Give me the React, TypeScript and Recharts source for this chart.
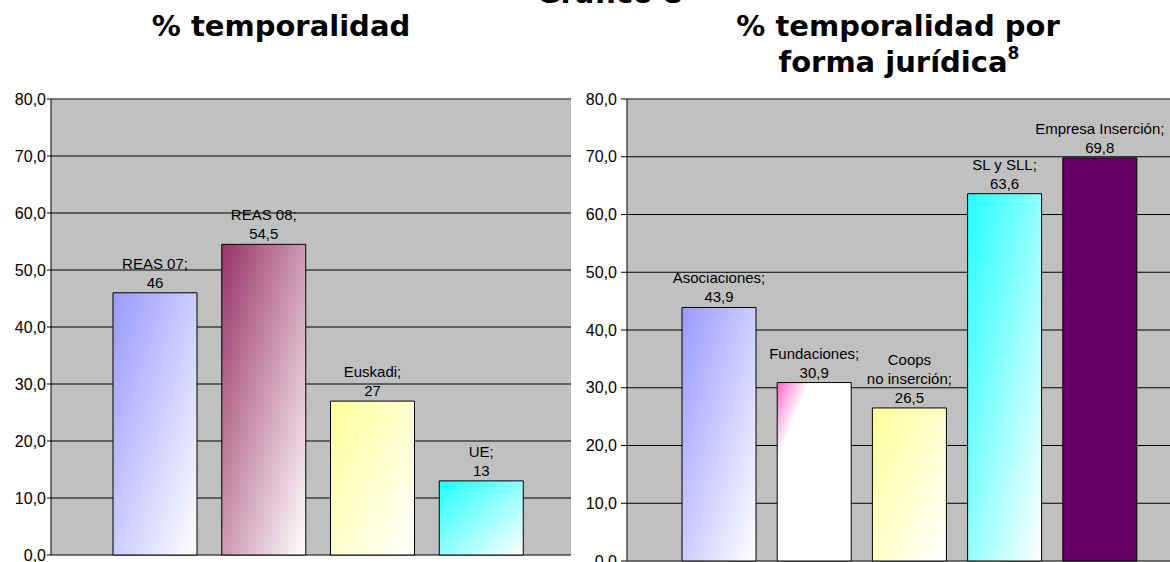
import React from "react";
import {
  BarChart,
  Bar,
  XAxis,
  YAxis,
  CartesianGrid,
  Cell,
  LabelList,
  ReferenceLine,
} from "recharts";

const leftCategories = ["REAS 07", "REAS 08", "Euskadi", "UE"];
const leftValues = [46, 54.5, 27, 13];

const rightCategories = [
  "Asociaciones",
  "Fundaciones",
  "Coops\nno inserción",
  "SL y SLL",
  "Empresa Inserción",
];
const rightValues = [43.9, 30.9, 26.5, 63.6, 69.8];

const yTicks = [0, 10, 20, 30, 40, 50, 60, 70, 80];

const leftFills = ["url(#gBlue)", "url(#gRose)", "url(#gYellow)", "url(#gCyan)"];
const rightFills = [
  "url(#gBlue)",
  "url(#gPink)",
  "url(#gYellow)",
  "url(#gCyan)",
  "#660066",
];

const leftData = leftCategories.map((name, i) => ({ name, value: leftValues[i] }));
const rightData = rightCategories.map((name, i) => ({ name, value: rightValues[i] }));

const ARIAL = "'Liberation Sans', Arial, sans-serif";
const VERDANA = "'DejaVu Sans', Verdana, sans-serif";

const fmtTick = (v: number) => v.toFixed(1).replace(".", ",");
const fmtVal = (v: number) => String(v).replace(".", ",");

function makeLabel(names: string[]) {
  return (props: any) => {
    const { x, y, width, index, value } = props;
    const parts = names[index].split("\n");
    const lines = parts.map((s, i) => (i === parts.length - 1 ? s + ";" : s));
    lines.push(fmtVal(Number(value)));
    const cx = Number(x) + Number(width) / 2;
    const base = Number(y) - 5;
    return (
      <text
        x={cx}
        textAnchor="middle"
        fontFamily={ARIAL}
        fontSize={15}
        fill="#000"
      >
        {lines.map((l, i) => (
          <tspan key={i} x={cx} y={base - (lines.length - 1 - i) * 19}>
            {l}
          </tspan>
        ))}
      </text>
    );
  };
}

function Gradients() {
  const grad = (id: string, color: string, end = 1) => (
    <linearGradient id={id} x1="0" y1="0" x2="1" y2="1">
      <stop offset="0" stopColor={color} />
      <stop offset={end} stopColor="#FFFFFF" />
    </linearGradient>
  );
  return (
    <svg width={0} height={0} style={{ position: "absolute" }}>
      <defs>
        {grad("gBlue", "#9999FF")}
        {grad("gRose", "#993366")}
        {grad("gYellow", "#FFFF99")}
        {grad("gCyan", "#22FFFF")}
        {grad("gPink", "#FF66CC", 0.22)}
      </defs>
    </svg>
  );
}

export default function App() {
  return (
    <div
      style={{
        position: "absolute",
        left: 0,
        top: 0,
        width: 1170,
        height: 562,
        overflow: "hidden",
        background: "#fff",
      }}
    >
      <Gradients />
      <svg
        width={1170}
        height={90}
        style={{ position: "absolute", left: 0, top: 0 }}
      >
        <g fontFamily={VERDANA} fontWeight="bold" fontSize={29} fill="#000">
          <text x={610} y={3} textAnchor="middle">
            Gráfico 8
          </text>
          <text x={281} y={36} textAnchor="middle">
            % temporalidad
          </text>
          <text x={898} y={36} textAnchor="middle">
            % temporalidad por
          </text>
          <text x={899} y={72} textAnchor="middle">
            forma jurídica
            <tspan fontSize={17} dy={-13}>
              8
            </tspan>
          </text>
        </g>
      </svg>

      <div style={{ position: "absolute", left: 0, top: 0 }}>
        <BarChart
          width={580}
          height={570}
          data={leftData}
          margin={{ top: 99, right: 9, bottom: 15, left: 0 }}
        >
          <CartesianGrid vertical={false} stroke="#000" fill="#C0C0C0" />
          <XAxis dataKey="name" hide padding={{ left: 50, right: 35 }} />
          <YAxis
            width={51}
            domain={[0, 80]}
            ticks={yTicks}
            interval={0}
            tickFormatter={fmtTick}
            tickSize={4}
            tickMargin={1}
            axisLine={{ stroke: "#000" }}
            tickLine={{ stroke: "#000" }}
            tick={{ fill: "#000", fontSize: 16, fontFamily: ARIAL }}
          />
          <ReferenceLine y={80} stroke="#808080" />
          <Bar
            dataKey="value"
            barSize={84}
            stroke="#000"
            strokeWidth={1}
            isAnimationActive={false}
          >
            {leftData.map((d, i) => (
              <Cell key={d.name} fill={leftFills[i]} />
            ))}
            <LabelList dataKey="value" content={makeLabel(leftCategories)} />
          </Bar>
        </BarChart>
      </div>

      <div style={{ position: "absolute", left: 560, top: 0 }}>
        <BarChart
          width={610}
          height={570}
          data={rightData}
          margin={{ top: 99, right: 0, bottom: 9, left: 0 }}
        >
          <CartesianGrid vertical={false} stroke="#000" fill="#C0C0C0" />
          <XAxis dataKey="name" hide padding={{ left: 44, right: 23 }} />
          <YAxis
            width={67}
            domain={[0, 80]}
            ticks={yTicks}
            interval={0}
            tickFormatter={fmtTick}
            tickSize={6}
            tickMargin={4}
            axisLine={{ stroke: "#000" }}
            tickLine={{ stroke: "#000" }}
            tick={{ fill: "#000", fontSize: 16, fontFamily: ARIAL }}
          />
          <ReferenceLine y={80} stroke="#808080" />
          <Bar
            dataKey="value"
            barSize={74}
            stroke="#000"
            strokeWidth={1}
            isAnimationActive={false}
          >
            {rightData.map((d, i) => (
              <Cell key={d.name} fill={rightFills[i]} />
            ))}
            <LabelList dataKey="value" content={makeLabel(rightCategories)} />
          </Bar>
        </BarChart>
      </div>
    </div>
  );
}
